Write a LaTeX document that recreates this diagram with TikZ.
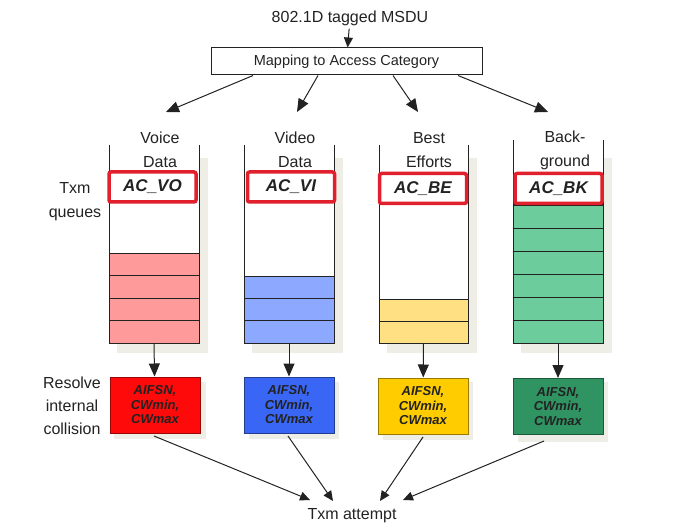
\documentclass[tikz,border=0pt]{standalone}
\usepackage{fontspec}
\setmainfont{Liberation Sans}
\usetikzlibrary{arrows.meta}
\definecolor{acred}{HTML}{E0202C}
\definecolor{shadowc}{HTML}{EEEEE6}
\definecolor{qred}{HTML}{FF9A9A}
\definecolor{qblue}{HTML}{8CA8FF}
\definecolor{qyellow}{HTML}{FFE082}
\definecolor{qgreen}{HTML}{6DCC9C}
\definecolor{bred}{HTML}{FF0A0A}
\definecolor{bblue}{HTML}{3A66F5}
\definecolor{byellow}{HTML}{FFCC00}
\definecolor{bgreen}{HTML}{2F9462}
\definecolor{ink}{HTML}{222222}
\begin{document}
\begin{tikzpicture}[x=1pt,y=-1pt,
  txt/.style={font=\fontsize{16}{24}\selectfont, inner sep=0pt, align=center, text=ink},
  aclbl/.style={draw=acred, line width=3.5pt, rounded corners=2pt, fill=white,
    minimum width=87pt, minimum height=30pt, inner sep=0pt,
    font=\fontsize{17}{20}\selectfont\bfseries\itshape, text=ink},
  param/.style={draw=#1!60!black, fill=#1, line width=1pt, minimum width=90pt,
    minimum height=56pt, inner sep=0pt, align=center, text=ink,
    font=\fontsize{13}{14.5}\selectfont\bfseries\itshape},
  cell/.style={draw=ink, line width=1pt},
  arr/.style={draw=ink, line width=1pt, -{Triangle[length=13pt,width=11pt]}},
  arrs/.style={draw=ink, line width=1pt, -{Triangle[length=10pt,width=9pt]}}]
\useasboundingbox (0,0) rectangle (676,529);

% title and mapping box
\node[txt] (title) at (350,18) {802.1D tagged MSDU};
\node[draw=ink, line width=1pt, minimum width=271pt, minimum height=27pt, inner sep=0pt,
  font=\fontsize{14.5}{16}\selectfont, text=ink] (map) at (346.5,61.5) {Mapping to Access Category};
\draw[arrs, shorten <=3pt] (title) -- (map);

% side labels
\node[txt] (txmq) at (75,202) {Txm\\queues};
\node[txt, font=\fontsize{16}{23}\selectfont] (resolve) at (72,406) {Resolve\\internal\\collision};

% shadows
\fill[shadowc] (117,158) rectangle (208,353);
\fill[shadowc] (252,158) rectangle (343,353);
\fill[shadowc] (387,158) rectangle (477,353);
\fill[shadowc] (521,158) rectangle (612,353);
\fill[shadowc] (114,382) rectangle (206,439);
\fill[shadowc] (249,382) rectangle (339,439);
\fill[shadowc] (383,382) rectangle (473,440);
\fill[shadowc] (518,382) rectangle (608,442);

% column 1: voice
\fill[white] (109,145) rectangle (199,343);
\fill[qred] (109,253) rectangle (199,343);
\foreach \y in {253,275.5,298,320.5} \draw[cell] (109,\y) rectangle (199,\y+22.5);
\draw[cell] (109,145) -- (109,343) (199,145) -- (199,343);
% column 2: video
\fill[white] (244,145) rectangle (334,343);
\fill[qblue] (244,276) rectangle (334,343);
\foreach \y in {276,298.3,320.6} \draw[cell] (244,\y) rectangle (334,\y+22.4);
\draw[cell] (244,145) -- (244,343) (334,145) -- (334,343);
% column 3: best effort
\fill[white] (379,145) rectangle (468,343);
\fill[qyellow] (379,299) rectangle (468,343);
\foreach \y in {299,321} \draw[cell] (379,\y) rectangle (468,\y+22);
\draw[cell] (379,145) -- (379,343) (468,145) -- (468,343);
% column 4: background
\fill[white] (513,140) rectangle (603,343);
\fill[qgreen] (513,205) rectangle (603,343);
\foreach \y in {205,228,251,274,297,320} \draw[cell] (513,\y) rectangle (603,\y+23);
\draw[cell] (513,140) -- (513,343) (603,140) -- (603,343);

% headers
\node[txt] (h1) at (160,150) {Voice\\Data};
\node[txt] (h2) at (295,150) {Video\\Data};
\node[txt] (h3) at (429,150) {Best\\Efforts};
\node[txt] (h4) at (565,150) {Back-\\ground};

% AC labels
\node[aclbl] (ac1) at (152.5,187) {AC\_VO};
\node[aclbl] (ac2) at (291,187) {AC\_VI};
\node[aclbl] (ac3) at (423,188.5) {AC\_BE};
\node[aclbl] (ac4) at (558.5,188.5) {AC\_BK};

% arrows from mapping box
\coordinate (m1) at (253,75.5);
\coordinate (m2) at (318,75.5);
\coordinate (m3) at (393,75.5);
\coordinate (m4) at (458,75.5);
\coordinate (e1) at (166,112);
\coordinate (e2) at (297,112);
\coordinate (e3) at (418,112);
\coordinate (e4) at (548,112);
\draw[arr] (m1) -- (e1);
\draw[arr] (m2) -- (e2);
\draw[arr] (m3) -- (e3);
\draw[arr] (m4) -- (e4);

% queue outputs
\coordinate (q1) at (154,343);
\coordinate (q2) at (289,343);
\coordinate (q3) at (423.5,343);
\coordinate (q4) at (558,343);

% parameter boxes
\node[param=bred] (p1) at (155,405) {AIFSN,\\CWmin,\\CWmax};
\node[param=bblue] (p2) at (289,405) {AIFSN,\\CWmin,\\CWmax};
\node[param=byellow] (p3) at (423,406) {AIFSN,\\CWmin,\\CWmax};
\node[param=bgreen] (p4) at (558,406.5) {AIFSN,\\CWmin,\\CWmax};
\draw[arr] (q1) -- (p1);
\draw[arr] (q2) -- (p2);
\draw[arr] (q3) -- (p3);
\draw[arr] (q4) -- (p4);

% txm attempt
\node[txt] (attempt) at (352,516) {Txm attempt};
\coordinate (s1) at (154,436);
\coordinate (s2) at (288,436);
\coordinate (s3) at (423,437);
\coordinate (s4) at (544,441);
\coordinate (t1) at (310,500);
\coordinate (t2) at (333,501);
\coordinate (t3) at (380,501);
\coordinate (t4) at (403,500);
\draw[arrs] (s1) -- (t1);
\draw[arrs] (s2) -- (t2);
\draw[arrs] (s3) -- (t3);
\draw[arrs] (s4) -- (t4);
\end{tikzpicture}
\end{document}
